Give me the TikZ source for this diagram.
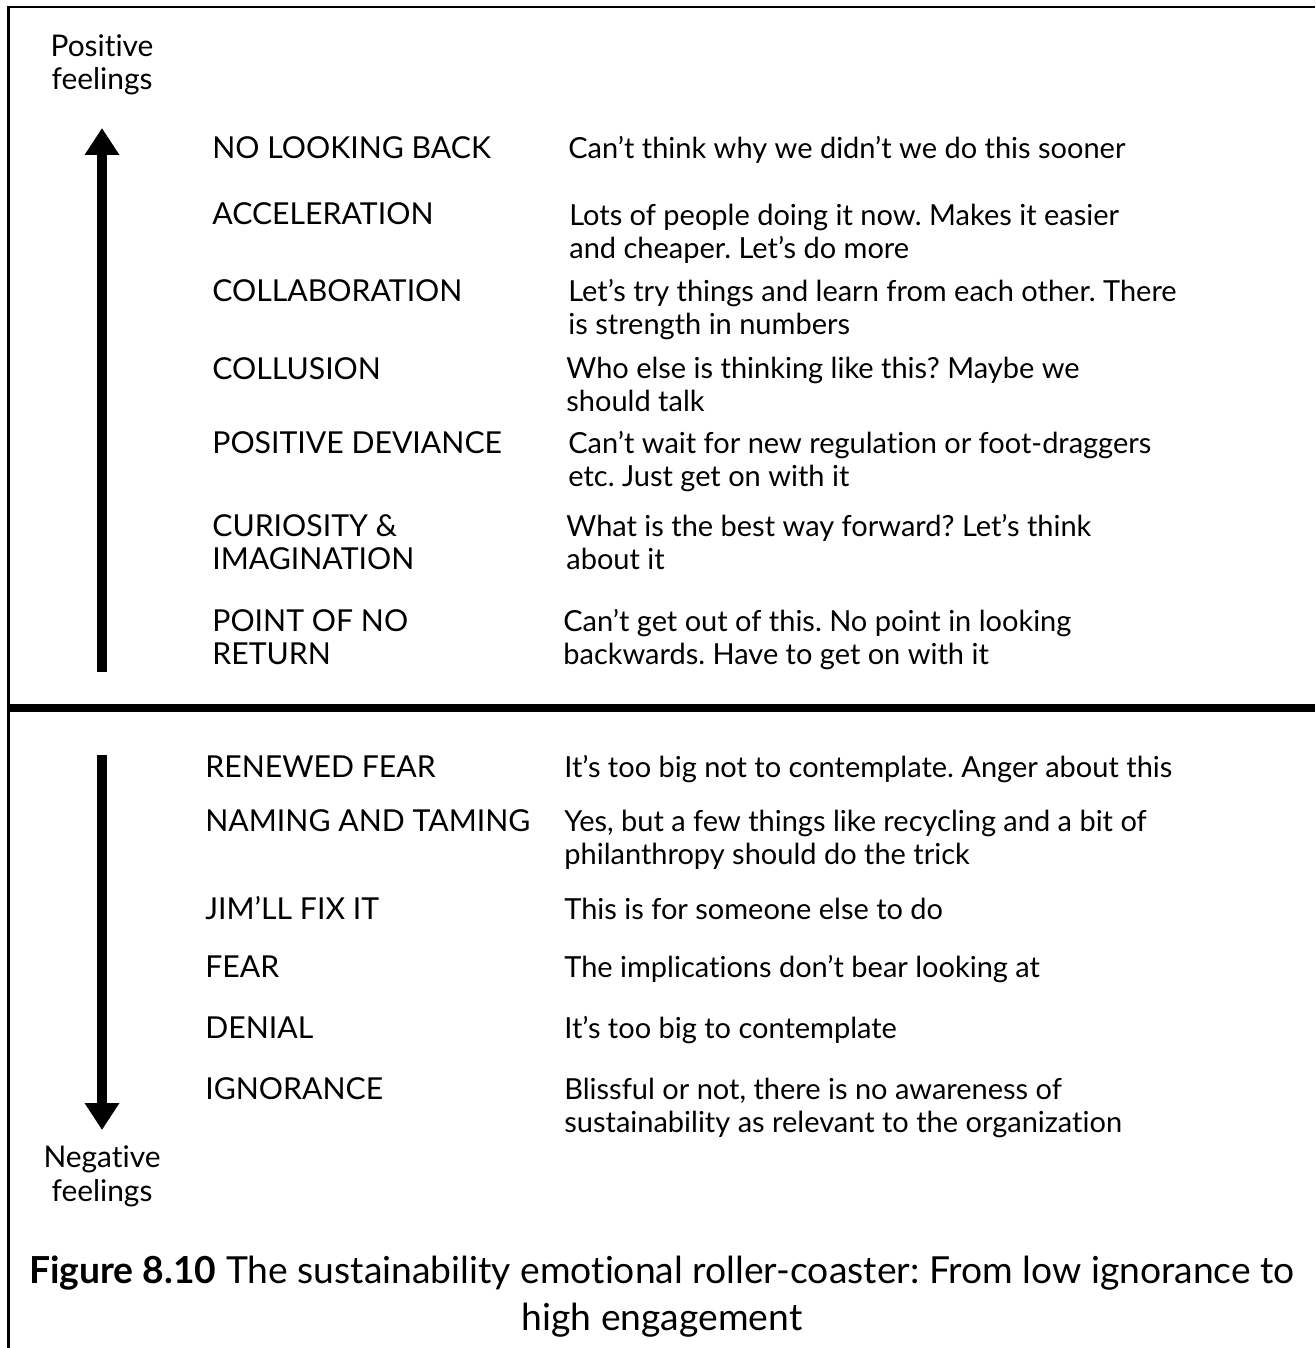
\documentclass[tikz,border=0pt]{standalone}
\usepackage{fontspec}
\setmainfont{Lato}[Ligatures=NoCommon]
\usetikzlibrary{arrows.meta}
\frenchspacing

\tikzset{
  stage/.style={anchor=base west, inner sep=0pt, align=left,
    font=\fontsize{17.2}{18.6}\selectfont},
  remark/.style={anchor=base west, inner sep=0pt, align=left,
    font=\fontsize{16.5}{18.6}\selectfont},
  feeling/.style={anchor=base, inner sep=0pt, align=center,
    font=\fontsize{17}{19.2}\selectfont},
  bigarrow/.style={line width=5.7pt, -{Triangle[length=0.54cm,width=0.66cm]}},
}

\begin{document}
\begin{tikzpicture}[x=0.02cm,y=-0.02cm]
    \useasboundingbox (0,0) rectangle (1315,1348);
    % frame and divider
    \draw [line width=1.7pt] (8.5,1348) -- (8.5,7) -- (1315,7);
    \draw [line width=4pt] (8.5,708) -- (1315,708);

    % upper half (multi-line nodes sit on their last baseline)
    \node [feeling] (pos) at (102,90) {Positive\\feelings};
    \coordinate (upbot) at (102,672);
    \coordinate (uptop) at (102,128);
    \draw [bigarrow] (upbot) -- (uptop);

    \node [stage] (nolook) at (212,159) {NO LOOKING BACK};
    \node [stage] (accel) at (212,225) {ACCELERATION};
    \node [stage] (collab) at (212,301) {COLLABORATION};
    \node [stage] (collus) at (212,379) {COLLUSION};
    \node [stage] (posdev) at (212,453) {POSITIVE DEVIANCE};
    \node [stage] (curio) at (212,569) {CURIOSITY \&\\IMAGINATION};
    \node [stage] (noret) at (212,664) {POINT OF NO\\RETURN};

    \node [remark] (nolookr) at (568,159) {Can’t think why we didn’t we do this sooner};
    \node [remark] (accelr) at (569,258) {Lots of people doing it now. Makes it easier\\and cheaper. Let’s do more};
    \node [remark] (collabr) at (568,334) {Let’s try things and learn from each other. There\\is strength in numbers};
    \node [remark] (collusr) at (566,411) {Who else is thinking like this? Maybe we\\should talk};
    \node [remark] (posdevr) at (568,486) {Can’t wait for new regulation or foot-draggers\\etc. Just get on with it};
    \node [remark] (curior) at (566,569) {What is the best way forward? Let’s think\\about it};
    \node [remark] (noretr) at (563,664) {Can’t get out of this. No point in looking\\backwards. Have to get on with it};

    % lower half
    \coordinate (dntop) at (102,755);
    \coordinate (dnbot) at (102,1130);
    \draw [bigarrow] (dntop) -- (dnbot);
    \node [feeling] (neg) at (102,1201) {Negative\\feelings};

    \node [stage] (renew) at (205,777) {RENEWED FEAR};
    \node [stage] (naming) at (205,831) {NAMING AND TAMING};
    \node [stage] (jim) at (205,919) {JIM’LL FIX IT};
    \node [stage] (fear) at (205,977) {FEAR};
    \node [stage] (denial) at (205,1038) {DENIAL};
    \node [stage] (ignor) at (205,1099) {IGNORANCE};

    \node [remark] (renewr) at (564,777) {It’s too big not to contemplate. Anger about this};
    \node [remark] (namingr) at (564,864) {Yes, but a few things like recycling and a bit of\\philanthropy should do the trick};
    \node [remark] (jimr) at (564,919) {This is for someone else to do};
    \node [remark] (fearr) at (564,977) {The implications don’t bear looking at};
    \node [remark] (denialr) at (564,1038) {It’s too big to contemplate};
    \node [remark] (ignorr) at (564,1132) {Blissful or not, there is no awareness of\\sustainability as relevant to the organization};

    % caption
    \node [anchor=base, inner sep=0pt, align=center, font=\fontsize{21.2}{26.7}\selectfont] (cap) at (662,1330)
      {{\bfseries Figure 8.10} The sustainability emotional roller-coaster: From low ignorance to\\high engagement};
\end{tikzpicture}
\end{document}
